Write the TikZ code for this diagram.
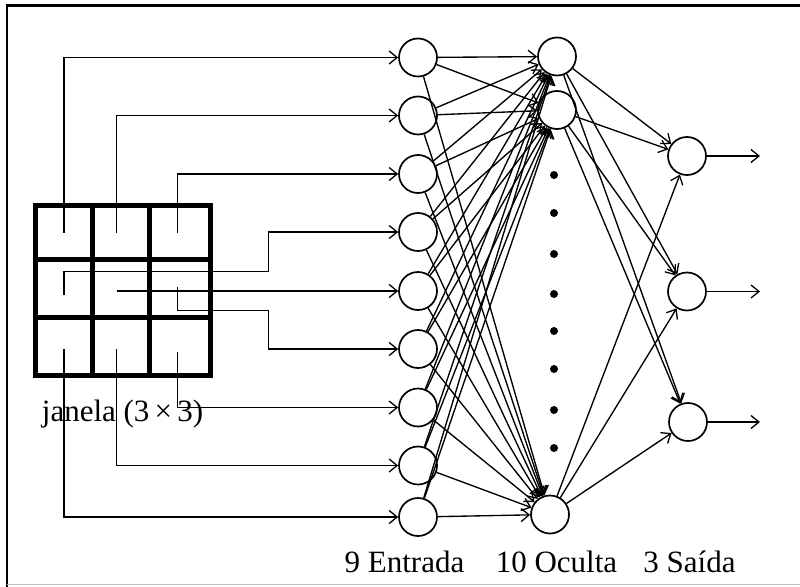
\documentclass[tikz,border=0pt]{standalone}
\usepackage{fontspec}
\setmainfont{Liberation Serif}
\usetikzlibrary{arrows.meta}
\begin{document}
\begin{tikzpicture}[x=1pt,y=-1pt,
  neuron/.style={circle,draw,line width=1.7pt,minimum size=38pt,inner sep=0pt},
  link/.style={line width=1.35pt,-{Straight Barb[length=8pt,width=13pt,line width=1.3pt]}},
  cellgrid/.style={line width=5pt},
  lbl/.style={font=\fontsize{31}{36}\selectfont,inner sep=0pt,anchor=base}
]
\useasboundingbox (0,0) rectangle (800,586);

% outer frame
\draw[line width=2.4pt] (7,590) -- (7,5.5) -- (805,5.5);
\draw[line width=0.8pt,black!25] (7,584.5) -- (805,584.5);

% 3x3 window
\draw[cellgrid] (35,205) rectangle (210,375);
\draw[cellgrid] (92,205) -- (92,375) (149.5,205) -- (149.5,375);
\draw[cellgrid] (35,259) -- (210,259) (35,317) -- (210,317);

% input layer
\foreach \i/\y in {1/57.5,2/115.5,3/174,4/232,5/291,6/349,7/407.5,8/465.5,9/517}
  \node[neuron] (in\i) at (418,\y) {};

% hidden layer
\node[neuron] (h1) at (557,56.5) {};
\node[neuron] (h2) at (557,110) {};
\node[neuron] (h10) at (550,514.5) {};
\foreach \y in {175,213,254,294,331,369,410,448}
  \fill (554,\y) circle (4pt);

% output layer
\node[neuron] (o1) at (687,156) {};
\node[neuron] (o2) at (687,291.5) {};
\node[neuron] (o3) at (688,422) {};

% wires from the window cells to the inputs
\coordinate (c11) at (64,232.7);
\coordinate (c12) at (116.7,232.7);
\coordinate (c13) at (177.3,232.7);
\coordinate (c21) at (64,295);
\coordinate (c22) at (116.7,291);
\coordinate (c23) at (177.3,287.3);
\coordinate (c31) at (64,349);
\coordinate (c32) at (116.7,349);
\coordinate (c33) at (177.3,352);
\coordinate (k4) at (268.3,271.7);
\coordinate (k6) at (268.3,310.7);

\draw[link] (c11) |- (in1);
\draw[link] (c12) |- (in2);
\draw[link] (c13) |- (in3);
\draw[link] (c21) |- (k4) |- (in4);
\draw[link] (c22) -- (in5);
\draw[link] (c23) |- (k6) |- (in6);
\draw[link] (c33) |- (in7);
\draw[link] (c32) |- (in8);
\draw[link] (c31) |- (in9);

% input -> hidden
\foreach \i in {1,...,9}
  \foreach \h in {h1,h2,h10}
    \draw[link] (in\i) -- (\h);

% hidden -> output
\foreach \h in {h1,h2,h10}
  \foreach \o in {o1,o2,o3}
    \draw[link] (\h) -- (\o);

% outputs
\coordinate (e1) at (760,156);
\coordinate (e2) at (760,291.5);
\coordinate (e3) at (760,422);
\draw[link] (o1) -- (e1);
\draw[link] (o2) -- (e2);
\draw[link] (o3) -- (e3);

% labels
\node[lbl] (lw) at (122.5,421) {janela (3\,×\,3)};
\node[lbl] (lin) at (404.5,572) {9 Entrada};
\node[lbl] (lhid) at (556.5,572) {10 Oculta};
\node[lbl] (lout) at (689.5,572) {3 Saída};
\end{tikzpicture}
\end{document}
